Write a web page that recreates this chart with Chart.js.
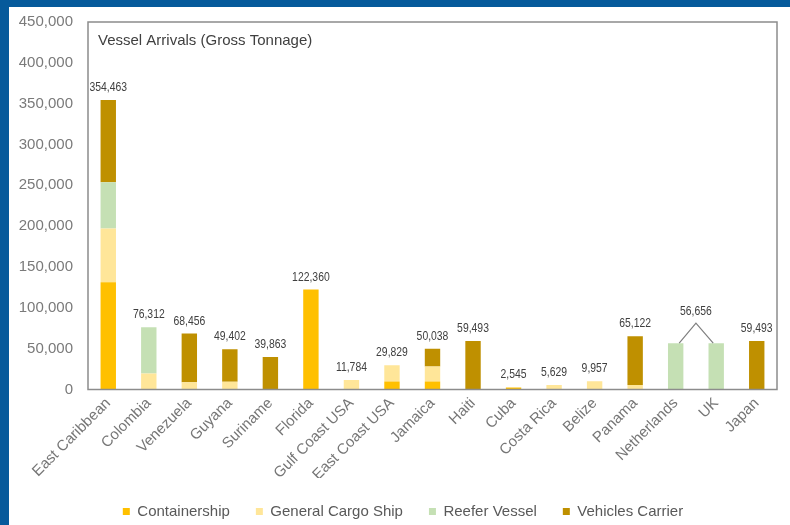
<!DOCTYPE html>
<html>
<head>
<meta charset="utf-8">
<title>Vessel Arrivals</title>
<script src="https://cdn.jsdelivr.net/npm/chart.js@4.4.1/dist/chart.umd.min.js"></script>
<style>
  html, body { margin: 0; padding: 0; overflow: hidden; background: #fff; }
  .frame {
    width: 790px; height: 525px; box-sizing: border-box; overflow: hidden;
    border-left: 9px solid #065a9b; border-top: 7px solid #065a9b;
  }
</style>
</head>
<body>
<div class="frame"><canvas id="arrivals" width="801" height="522"></canvas></div>
<script>
const chartTitle = 'Vessel Arrivals (Gross Tonnage)';

const ports = ['East Caribbean', 'Colombia', 'Venezuela', 'Guyana', 'Suriname', 'Florida',
  'Gulf Coast USA', 'East Coast USA', 'Jamaica', 'Haiti', 'Cuba', 'Costa Rica', 'Belize',
  'Panama', 'Netherlands', 'UK', 'Japan'];

const containership = [131200, 0, 0, 0, 0, 122360, 0, 9800, 9800, 0, 2545, 0, 0, 0, 0, 0, 0];
const generalCargo  = [65800, 19656, 8963, 9539, 0, 0, 11784, 20029, 18400, 0, 0, 5629, 9957, 5629, 0, 0, 0];
const reeferVessel  = [56656, 56656, 0, 0, 0, 0, 0, 0, 0, 0, 0, 0, 0, 0, 56656, 56656, 0];
const vehicles      = [100807, 0, 59493, 39863, 39863, 0, 0, 0, 21838, 59493, 0, 0, 0, 59493, 0, 0, 59493];

const yTicks = [0, 50000, 100000, 150000, 200000, 250000, 300000, 350000, 400000, 450000];

// Netherlands and UK share one total label with a callout
const sharedTotal = [14, 15];

const totals = ports.map((_, i) => containership[i] + generalCargo[i] + reeferVessel[i] + vehicles[i]);
const fmt = v => v.toLocaleString('en-US');
const FONT = '"Liberation Sans", Arial, sans-serif';

function narrowText(ctx, text, x, y) {
  ctx.save();
  ctx.translate(x, y);
  ctx.scale(0.8, 1);
  ctx.fillText(text, 0, 0);
  ctx.restore();
}

const boxAndLabels = {
  id: 'boxAndLabels',
  afterDatasetsDraw(chart) {
    const { ctx, chartArea: a, scales: { x, y } } = chart;
    ctx.save();
    ctx.strokeStyle = '#8c8c8c';
    ctx.lineWidth = 1.5;
    ctx.strokeRect(a.left, a.top, a.right - a.left, a.bottom - a.top);

    ctx.fillStyle = '#404040';
    ctx.font = '15px ' + FONT;
    ctx.textAlign = 'left';
    ctx.textBaseline = 'middle';
    ctx.fillText(chartTitle, a.left + 10, a.top + 19);

    ctx.font = '13px ' + FONT;
    ctx.textAlign = 'center';
    totals.forEach((t, i) => {
      if (sharedTotal.includes(i)) return;
      narrowText(ctx, fmt(t), x.getPixelForValue(i), y.getPixelForValue(t) - 12.5);
    });

    const xa = x.getPixelForValue(sharedTotal[0]);
    const xb = x.getPixelForValue(sharedTotal[1]);
    const yt = y.getPixelForValue(totals[sharedTotal[0]]);
    const xm = (xa + xb) / 2;
    ctx.strokeStyle = '#7f7f7f';
    ctx.lineWidth = 1.2;
    ctx.beginPath();
    ctx.moveTo(xa + 3.5, yt);
    ctx.lineTo(xm, yt - 20);
    ctx.lineTo(xb - 3, yt);
    ctx.stroke();
    narrowText(ctx, fmt(totals[sharedTotal[0]]), xm, yt - 32);
    ctx.restore();
  }
};

new Chart(document.getElementById('arrivals'), {
  type: 'bar',
  data: {
    labels: ports,
    datasets: [
      { label: 'Containership', data: containership, backgroundColor: '#FFC000' },
      { label: 'General Cargo Ship', data: generalCargo, backgroundColor: '#FFE699' },
      { label: 'Reefer Vessel', data: reeferVessel, backgroundColor: '#C5E0B4' },
      { label: 'Vehicles Carrier', data: vehicles, backgroundColor: '#BF9000' }
    ]
  },
  options: {
    responsive: false,
    animation: false,
    devicePixelRatio: 1,
    layout: { padding: { top: 15, right: 13, left: 0, bottom: 0 } },
    datasets: { bar: { barPercentage: 0.38, categoryPercentage: 1 } },
    scales: {
      x: {
        stacked: true,
        grid: { display: false, drawTicks: false },
        border: { display: false },
        ticks: {
          autoSkip: false, minRotation: 45, maxRotation: 45, padding: 5,
          color: '#767676', font: { family: FONT, size: 15 }
        },
        afterFit: s => { s.height = 88.5; }
      },
      y: {
        stacked: true,
        min: 0,
        max: yTicks[yTicks.length - 1],
        grid: { display: false, drawTicks: false },
        border: { display: false },
        afterBuildTicks: s => { s.ticks = yTicks.map(v => ({ value: v })); },
        ticks: {
          padding: 15, color: '#7a7a7a', font: { family: FONT, size: 15 },
          callback: v => fmt(v)
        },
        afterFit: s => {
          s.width = 79;
          s.paddingTop = 0;
          s.paddingBottom = 0;
        }
      },
      // empty right gutter so the legend sits a little right of the plot centre
      gutter: {
        type: 'linear',
        position: 'right',
        grid: { display: false, drawTicks: false },
        border: { display: false },
        ticks: { display: false },
        afterFit: s => {
          s.width = 20;
          s.paddingTop = 0;
          s.paddingBottom = 0;
        }
      }
    },
    plugins: {
      tooltip: { enabled: false },
      legend: {
        position: 'bottom',
        labels: {
          boxWidth: 7, boxHeight: 7, padding: 26,
          color: '#595959', font: { family: FONT, size: 15 }
        }
      }
    }
  },
  plugins: [boxAndLabels]
});
</script>
</body>
</html>
